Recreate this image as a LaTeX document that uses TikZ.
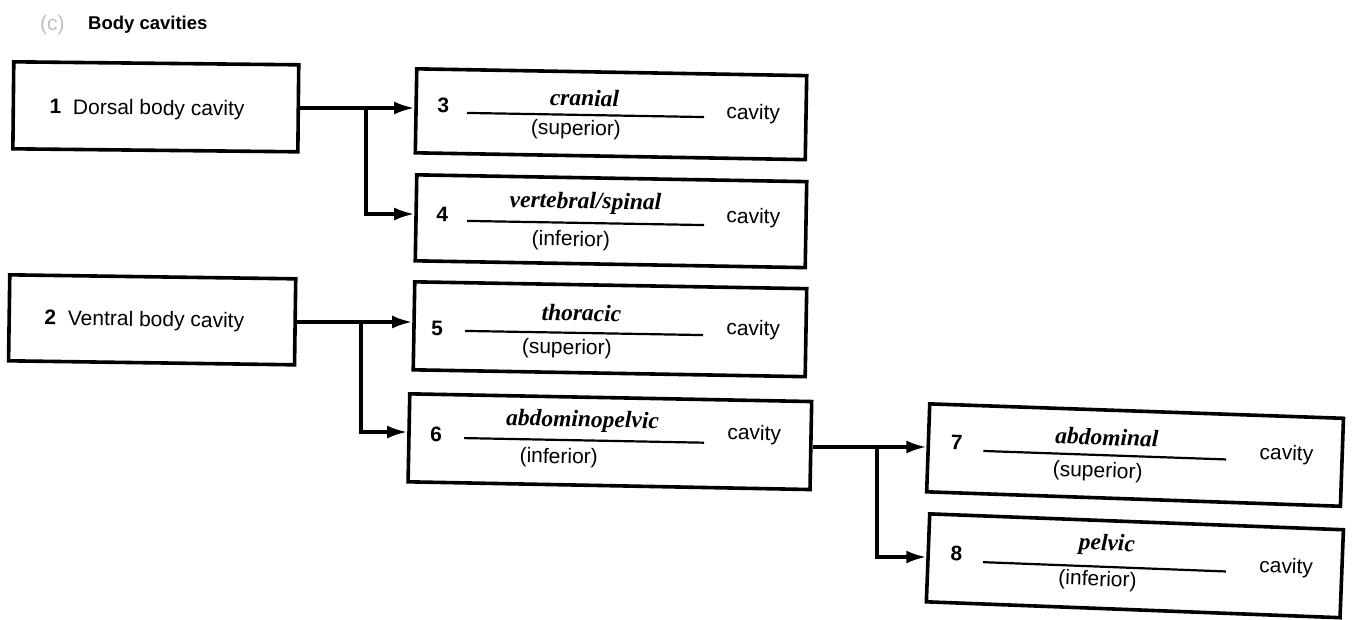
\documentclass[tikz,border=0pt]{standalone}
\usepackage{fontspec}
\setmainfont{Liberation Sans}
\newfontfamily\ital{Liberation Serif}
\usetikzlibrary{arrows.meta}
\tikzset{
  box/.style={draw, line width=3.6pt, anchor=north west, inner sep=0pt},
  conn/.style={line width=3.2pt},
  arr/.style={conn, -{Latex[length=20pt,width=13pt]}},
  lbl/.style={font=\fontsize{21}{24}\selectfont, inner sep=0pt},
  num/.style={font=\fontsize{21}{24}\selectfont\bfseries, inner sep=0pt},
  ans/.style={font=\fontsize{23.5}{26}\selectfont\ital\bfseries\itshape, inner sep=0pt},
  rule/.style={line width=2.2pt},
  tilt/.style={rotate around={#1}, transform shape}
}
\begin{document}
\begin{tikzpicture}[x=1pt,y=-1pt]
\useasboundingbox[fill=white] (0,0) rectangle (1353,619);
% title
\node[lbl, text=black!25, anchor=west] (c) at (40,25) {(c)};
\node[lbl, font=\fontsize{18.5}{22}\selectfont\bfseries, anchor=west] (title) at (88,25) {Body cavities};
% box 1
\begin{scope}[tilt={-0.6:(12,60)}]
\node[box, minimum width=285pt, minimum height=87pt] (b1) at (12,60) {};
\node[lbl, anchor=west] (t1) at (50,108) {\textbf{1}\ \ Dorsal body cavity};
\end{scope}
% box 2
\begin{scope}[tilt={-0.8:(8,273)}]
\node[box, minimum width=286pt, minimum height=86pt] (b2) at (8,273) {};
\node[lbl, anchor=west] (t2) at (45,319) {\textbf{2}\ \ Ventral body cavity};
\end{scope}
% box 3
\begin{scope}[tilt={-1:(415,67)}]
\node[box, minimum width=390pt, minimum height=84pt] (b3) at (415,67) {};
\node[num] (n3) at (444,105) {3};
\draw[rule] (468,112) coordinate (l3a) -- (705,112) coordinate (l3b);
\node[ans] (a3) at (585,95) {cranial};
\node[lbl] (s3) at (577,127) {(superior)};
\node[lbl] (c3) at (754,108) {cavity};
\end{scope}
% box 4
\begin{scope}[tilt={-1:(415,173)}]
\node[box, minimum width=390pt, minimum height=86pt] (b4) at (415,173) {};
\node[num] (n4) at (443,214) {4};
\draw[rule] (468,220) coordinate (l4a) -- (705,220) coordinate (l4b);
\node[ans] (a4) at (586,200) {vertebral/spinal};
\node[lbl] (s4) at (572,238) {(inferior)};
\node[lbl] (c4) at (754,212) {cavity};
\end{scope}
% box 5
\begin{scope}[tilt={-1:(413,280)}]
\node[box, minimum width=392pt, minimum height=88pt] (b5) at (413,280) {};
\node[num] (n5) at (438,328) {5};
\draw[rule] (466,330) coordinate (l5a) -- (704,330) coordinate (l5b);
\node[ans] (a5) at (582,310) {thoracic};
\node[lbl] (s5) at (568,346) {(superior)};
\node[lbl] (c5) at (754,324) {cavity};
\end{scope}
% box 6
\begin{scope}[tilt={-1.1:(408,392)}]
\node[box, minimum width=402pt, minimum height=88pt] (b6) at (408,392) {};
\node[num] (n6) at (437,434) {6};
\draw[rule] (465,437) coordinate (l6a) -- (705,437) coordinate (l6b);
\node[ans] (a6) at (583,418) {abdominopelvic};
\node[lbl] (s6) at (560,455) {(inferior)};
\node[lbl] (c6) at (755,428) {cavity};
\end{scope}
% box 7
\begin{scope}[tilt={-2:(928,402)}]
\node[box, minimum width=414pt, minimum height=88pt] (b7) at (928,402) {};
\node[num] (n7) at (958,441) {7};
\draw[rule] (985,449) coordinate (l7a) -- (1228,449) coordinate (l7b);
\node[ans] (a7) at (1108,431) {abdominal};
\node[lbl] (s7) at (1100,466) {(superior)};
\node[lbl] (c7) at (1288,442) {cavity};
\end{scope}
% box 8
\begin{scope}[tilt={-2.2:(928,512)}]
\node[box, minimum width=414pt, minimum height=88pt] (b8) at (928,512) {};
\node[num] (n8) at (958,552) {8};
\draw[rule] (985,560) coordinate (l8a) -- (1228,560) coordinate (l8b);
\node[ans] (a8) at (1108,538) {pelvic};
\node[lbl] (s8) at (1100,574) {(inferior)};
\node[lbl] (c8) at (1288,554) {cavity};
\end{scope}
% connectors
\coordinate (j1) at (366,108);
\coordinate (j2) at (361,322);
\coordinate (j3) at (877,447);
\draw[arr] (b1.east |- j1) -- (b3.west |- j1);
\draw[arr] (j1) -- (366,214) -- (b4.west |- 0,214);
\draw[arr] (b2.east |- j2) -- (b5.west |- j2);
\draw[arr] (j2) -- (361,432) -- (b6.west |- 0,432);
\draw[arr] (b6.east |- j3) -- (b7.west |- j3);
\draw[arr] (j3) -- (877,557) -- (b8.west |- 0,557);
\end{tikzpicture}
\end{document}
